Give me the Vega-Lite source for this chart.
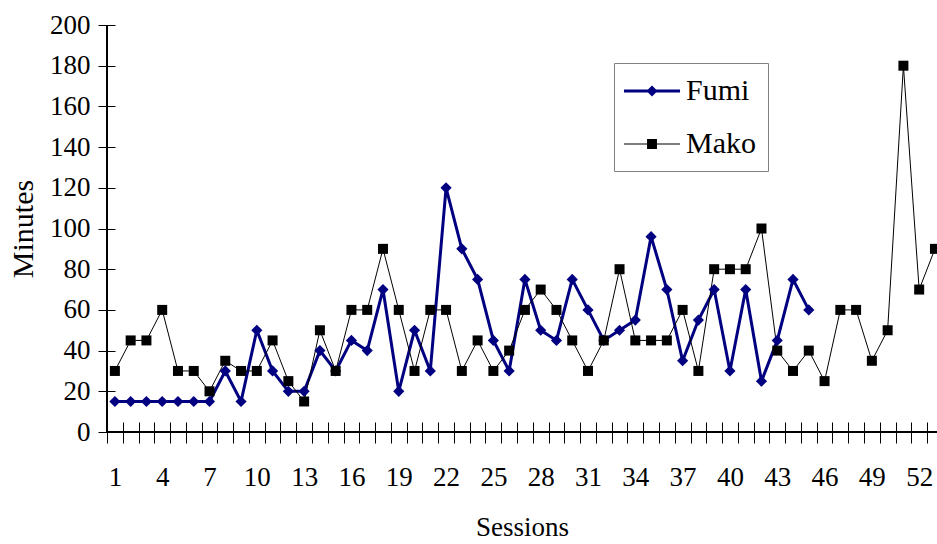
{
  "$schema": "https://vega.github.io/schema/vega-lite/v6.json",
  "width": 830,
  "height": 407,
  "autosize": "none",
  "padding": {"left": 107, "top": 25, "right": 0, "bottom": 112},
  "background": "white",
  "view": {"stroke": null},
  "config": {
    "axis": {
      "labelFont": "Liberation Serif",
      "titleFont": "Liberation Serif",
      "labelColor": "black",
      "titleColor": "black",
      "titleFontWeight": "normal",
      "labelFontSize": 27,
      "titleFontSize": 27,
      "tickColor": "black",
      "tickWidth": 1,
      "grid": false
    },
    "legend": {
      "labelFont": "Liberation Serif",
      "labelFontSize": 30,
      "labelColor": "black"
    }
  },
  "resolve": {"scale": {"x": "shared", "y": "shared"}, "axis": {"x": "independent"}},
  "data": {
    "values": [
      {"session": 1, "series": "Fumi", "minutes": 15},
      {"session": 2, "series": "Fumi", "minutes": 15},
      {"session": 3, "series": "Fumi", "minutes": 15},
      {"session": 4, "series": "Fumi", "minutes": 15},
      {"session": 5, "series": "Fumi", "minutes": 15},
      {"session": 6, "series": "Fumi", "minutes": 15},
      {"session": 7, "series": "Fumi", "minutes": 15},
      {"session": 8, "series": "Fumi", "minutes": 30},
      {"session": 9, "series": "Fumi", "minutes": 15},
      {"session": 10, "series": "Fumi", "minutes": 50},
      {"session": 11, "series": "Fumi", "minutes": 30},
      {"session": 12, "series": "Fumi", "minutes": 20},
      {"session": 13, "series": "Fumi", "minutes": 20},
      {"session": 14, "series": "Fumi", "minutes": 40},
      {"session": 15, "series": "Fumi", "minutes": 30},
      {"session": 16, "series": "Fumi", "minutes": 45},
      {"session": 17, "series": "Fumi", "minutes": 40},
      {"session": 18, "series": "Fumi", "minutes": 70},
      {"session": 19, "series": "Fumi", "minutes": 20},
      {"session": 20, "series": "Fumi", "minutes": 50},
      {"session": 21, "series": "Fumi", "minutes": 30},
      {"session": 22, "series": "Fumi", "minutes": 120},
      {"session": 23, "series": "Fumi", "minutes": 90},
      {"session": 24, "series": "Fumi", "minutes": 75},
      {"session": 25, "series": "Fumi", "minutes": 45},
      {"session": 26, "series": "Fumi", "minutes": 30},
      {"session": 27, "series": "Fumi", "minutes": 75},
      {"session": 28, "series": "Fumi", "minutes": 50},
      {"session": 29, "series": "Fumi", "minutes": 45},
      {"session": 30, "series": "Fumi", "minutes": 75},
      {"session": 31, "series": "Fumi", "minutes": 60},
      {"session": 32, "series": "Fumi", "minutes": 45},
      {"session": 33, "series": "Fumi", "minutes": 50},
      {"session": 34, "series": "Fumi", "minutes": 55},
      {"session": 35, "series": "Fumi", "minutes": 96},
      {"session": 36, "series": "Fumi", "minutes": 70},
      {"session": 37, "series": "Fumi", "minutes": 35},
      {"session": 38, "series": "Fumi", "minutes": 55},
      {"session": 39, "series": "Fumi", "minutes": 70},
      {"session": 40, "series": "Fumi", "minutes": 30},
      {"session": 41, "series": "Fumi", "minutes": 70},
      {"session": 42, "series": "Fumi", "minutes": 25},
      {"session": 43, "series": "Fumi", "minutes": 45},
      {"session": 44, "series": "Fumi", "minutes": 75},
      {"session": 45, "series": "Fumi", "minutes": 60},
      {"session": 1, "series": "Mako", "minutes": 30},
      {"session": 2, "series": "Mako", "minutes": 45},
      {"session": 3, "series": "Mako", "minutes": 45},
      {"session": 4, "series": "Mako", "minutes": 60},
      {"session": 5, "series": "Mako", "minutes": 30},
      {"session": 6, "series": "Mako", "minutes": 30},
      {"session": 7, "series": "Mako", "minutes": 20},
      {"session": 8, "series": "Mako", "minutes": 35},
      {"session": 9, "series": "Mako", "minutes": 30},
      {"session": 10, "series": "Mako", "minutes": 30},
      {"session": 11, "series": "Mako", "minutes": 45},
      {"session": 12, "series": "Mako", "minutes": 25},
      {"session": 13, "series": "Mako", "minutes": 15},
      {"session": 14, "series": "Mako", "minutes": 50},
      {"session": 15, "series": "Mako", "minutes": 30},
      {"session": 16, "series": "Mako", "minutes": 60},
      {"session": 17, "series": "Mako", "minutes": 60},
      {"session": 18, "series": "Mako", "minutes": 90},
      {"session": 19, "series": "Mako", "minutes": 60},
      {"session": 20, "series": "Mako", "minutes": 30},
      {"session": 21, "series": "Mako", "minutes": 60},
      {"session": 22, "series": "Mako", "minutes": 60},
      {"session": 23, "series": "Mako", "minutes": 30},
      {"session": 24, "series": "Mako", "minutes": 45},
      {"session": 25, "series": "Mako", "minutes": 30},
      {"session": 26, "series": "Mako", "minutes": 40},
      {"session": 27, "series": "Mako", "minutes": 60},
      {"session": 28, "series": "Mako", "minutes": 70},
      {"session": 29, "series": "Mako", "minutes": 60},
      {"session": 30, "series": "Mako", "minutes": 45},
      {"session": 31, "series": "Mako", "minutes": 30},
      {"session": 32, "series": "Mako", "minutes": 45},
      {"session": 33, "series": "Mako", "minutes": 80},
      {"session": 34, "series": "Mako", "minutes": 45},
      {"session": 35, "series": "Mako", "minutes": 45},
      {"session": 36, "series": "Mako", "minutes": 45},
      {"session": 37, "series": "Mako", "minutes": 60},
      {"session": 38, "series": "Mako", "minutes": 30},
      {"session": 39, "series": "Mako", "minutes": 80},
      {"session": 40, "series": "Mako", "minutes": 80},
      {"session": 41, "series": "Mako", "minutes": 80},
      {"session": 42, "series": "Mako", "minutes": 100},
      {"session": 43, "series": "Mako", "minutes": 40},
      {"session": 44, "series": "Mako", "minutes": 30},
      {"session": 45, "series": "Mako", "minutes": 40},
      {"session": 46, "series": "Mako", "minutes": 25},
      {"session": 47, "series": "Mako", "minutes": 60},
      {"session": 48, "series": "Mako", "minutes": 60},
      {"session": 49, "series": "Mako", "minutes": 35},
      {"session": 50, "series": "Mako", "minutes": 50},
      {"session": 51, "series": "Mako", "minutes": 180},
      {"session": 52, "series": "Mako", "minutes": 70},
      {"session": 53, "series": "Mako", "minutes": 90}
    ]
  },
  "layer": [
    {
      "mark": {"type": "rule", "color": "black", "strokeWidth": 1},
      "encoding": {"y": {"datum": 0, "type": "quantitative"}}
    },
    {
      "mark": {"type": "rule", "color": "black", "strokeWidth": 1},
      "encoding": {"x": {"datum": 0.5, "type": "quantitative", "axis": null}}
    },
    {
      "transform": [{"filter": "datum.series === 'Fumi'"}],
      "mark": {"type": "line", "color": "#000080", "strokeWidth": 3},
      "encoding": {
        "x": {
          "field": "session",
          "type": "quantitative",
          "scale": {"domain": [0.5, 53.13], "nice": false, "zero": false},
          "axis": {
            "title": null,
            "orient": "bottom",
            "values": [0.5, 1.5, 2.5, 3.5, 4.5, 5.5, 6.5, 7.5, 8.5, 9.5, 10.5, 11.5, 12.5, 13.5, 14.5, 15.5, 16.5, 17.5, 18.5, 19.5, 20.5, 21.5, 22.5, 23.5, 24.5, 25.5, 26.5, 27.5, 28.5, 29.5, 30.5, 31.5, 32.5, 33.5, 34.5, 35.5, 36.5, 37.5, 38.5, 39.5, 40.5, 41.5, 42.5, 43.5, 44.5, 45.5, 46.5, 47.5, 48.5, 49.5, 50.5, 51.5, 52.5],
            "domain": false,
            "labels": false,
            "offset": -10,
            "tickSize": 21
          }
        },
        "y": {
          "field": "minutes",
          "type": "quantitative",
          "scale": {"domain": [0, 200], "nice": false},
          "axis": {
            "title": "Minutes",
            "titleFontSize": 30,
            "values": [0, 20, 40, 60, 80, 100, 120, 140, 160, 180, 200],
            "domain": false,
            "offset": -8,
            "tickSize": 17,
            "labelPadding": 8,
            "titlePadding": 11
          }
        }
      }
    },
    {
      "transform": [{"filter": "datum.series === 'Mako'"}],
      "mark": {"type": "line", "color": "#000000", "strokeWidth": 1},
      "encoding": {
        "x": {
          "field": "session",
          "type": "quantitative",
          "axis": {
            "title": "Sessions",
            "orient": "bottom",
            "values": [1, 4, 7, 10, 13, 16, 19, 22, 25, 28, 31, 34, 37, 40, 43, 46, 49, 52],
            "format": "d",
            "domain": false,
            "ticks": false,
            "tickSize": 0,
            "labelOverlap": false,
            "labelFlush": false,
            "labelPadding": 32,
            "titlePadding": 24
          }
        },
        "y": {"field": "minutes", "type": "quantitative"}
      }
    },
    {
      "transform": [{"filter": "datum.series === 'Fumi'"}],
      "mark": {"type": "point", "shape": "diamond", "filled": true, "opacity": 1, "size": 125, "color": "#000080"},
      "encoding": {
        "x": {"field": "session", "type": "quantitative", "axis": null},
        "y": {"field": "minutes", "type": "quantitative"}
      }
    },
    {
      "transform": [{"filter": "datum.series === 'Mako'"}],
      "mark": {"type": "point", "shape": "square", "filled": true, "opacity": 1, "size": 100, "color": "#000000"},
      "encoding": {
        "x": {"field": "session", "type": "quantitative", "axis": null},
        "y": {"field": "minutes", "type": "quantitative"}
      }
    },
    {
      "mark": {"type": "point", "filled": true, "opacity": 0, "size": 900},
      "encoding": {
        "x": {"field": "session", "type": "quantitative", "axis": null},
        "y": {"field": "minutes", "type": "quantitative"},
        "color": {
          "field": "series",
          "type": "nominal",
          "scale": {"domain": ["Fumi", "Mako"], "range": ["#000080", "#000000"]},
          "legend": {
            "title": null,
            "orient": "none",
            "direction": "vertical",
            "legendX": 507,
            "legendY": 38,
            "padding": 12,
            "symbolSize": 900,
            "symbolOffset": 10,
            "symbolOpacity": 1,
            "labelOffset": 18,
            "rowPadding": 22,
            "strokeColor": "#808080",
            "fillColor": "white"
          }
        },
        "shape": {
          "field": "series",
          "type": "nominal",
          "scale": {
            "domain": ["Fumi", "Mako"],
            "range": [
              "M-1.87,-0.1H1.87V0.1H-1.87ZM0,-0.37L0.37,0L0,0.37L-0.37,0Z",
              "M-1.87,-0.035H1.87V0.035H-1.87ZM-0.33,-0.33H0.33V0.33H-0.33Z"
            ]
          },
          "legend": {
            "title": null,
            "orient": "none",
            "direction": "vertical",
            "legendX": 507,
            "legendY": 38,
            "padding": 12,
            "symbolSize": 900,
            "symbolOffset": 10,
            "symbolOpacity": 1,
            "labelOffset": 18,
            "rowPadding": 22,
            "strokeColor": "#808080",
            "fillColor": "white"
          }
        }
      }
    }
  ]
}
